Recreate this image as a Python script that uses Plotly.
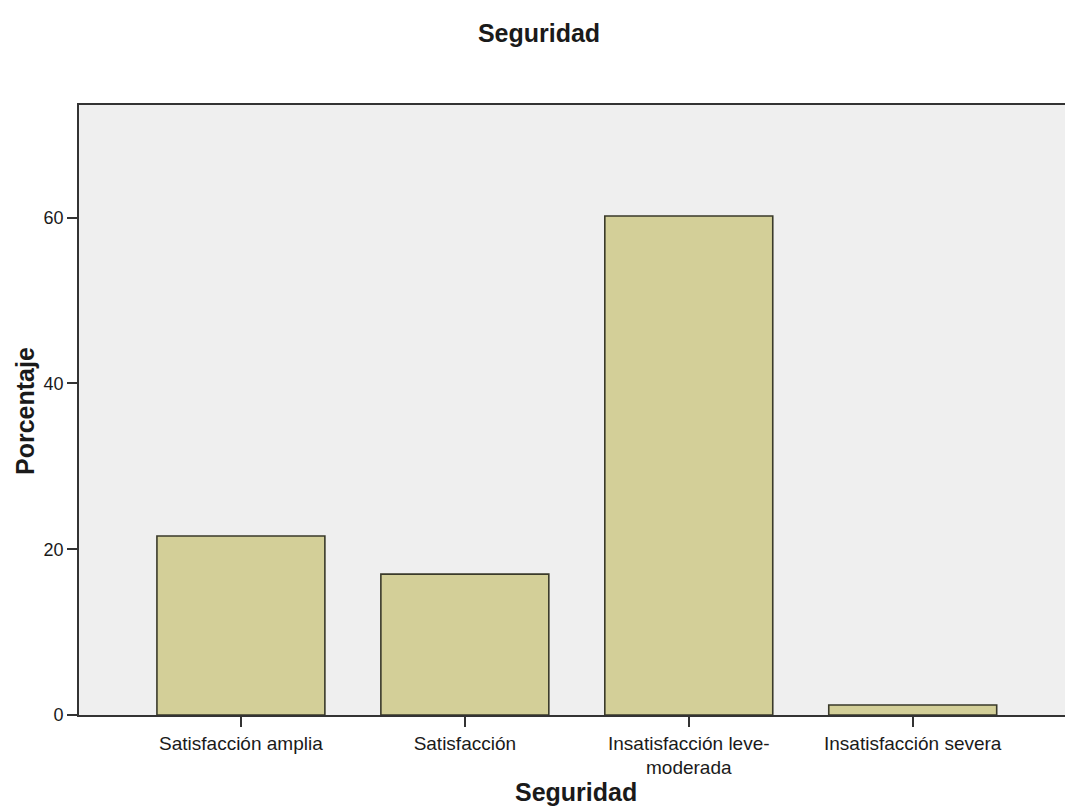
import plotly.graph_objects as go

# Percentage of respondents per satisfaction level (Seguridad)
categories = [
    "Satisfacción amplia",
    "Satisfacción",
    "Insatisfacción leve-<br>moderada",
    "Insatisfacción severa",
]
percentages = [21.6, 17.0, 60.2, 1.2]
y_tick_values = [0, 20, 40, 60]
y_tick_labels = ["0", "20", "40", "60"]

FONT = "Liberation Sans, Arial, sans-serif"
INK = "#1a1a1a"

fig = go.Figure(
    go.Bar(
        x=list(range(len(categories))),
        y=percentages,
        marker=dict(color="#d3cf98", line=dict(color="#3a3a2a", width=1.6)),
        hoverinfo="y",
    )
)

W, H = 1065, 807
ml, mr, mt, mb = 79, 0, 105, 92

fig.update_layout(
    width=W,
    height=H,
    margin=dict(l=ml, r=mr, t=mt, b=mb, autoexpand=False),
    paper_bgcolor="white",
    plot_bgcolor="#efefef",
    bargap=0.25,
    showlegend=False,
    font=dict(family=FONT, color=INK),
    title=dict(
        text="<b>Seguridad</b>",
        font=dict(family=FONT, size=25, color=INK),
        x=539 / W,
        xanchor="center",
        xref="container",
        y=1 - 33 / H,
        yanchor="middle",
        yref="container",
    ),
)

fig.update_xaxes(
    range=[-0.723, 3.68],
    tickmode="array",
    tickvals=list(range(len(categories))),
    ticktext=categories,
    ticks="outside",
    ticklen=10,
    tickwidth=1.5,
    tickcolor="#333333",
    tickfont=dict(family=FONT, size=19, color=INK),
    showline=True,
    linecolor="#333333",
    linewidth=1.6,
    mirror=True,
    showgrid=False,
    zeroline=False,
)

fig.update_yaxes(
    range=[0, 73.6],
    tickmode="array",
    tickvals=y_tick_values,
    ticktext=y_tick_labels,
    ticks="outside",
    ticklen=10,
    tickwidth=1.5,
    tickcolor="#333333",
    tickfont=dict(family=FONT, size=18, color=INK),
    showline=True,
    linecolor="#333333",
    linewidth=1.6,
    showgrid=False,
    zeroline=False,
)

plot_w = W - ml - mr
plot_h = H - mt - mb

# Axis titles
fig.add_annotation(
    text="<b>Seguridad</b>",
    xref="paper", yref="paper",
    x=(576 - ml) / plot_w, y=-(792 - (H - mb)) / plot_h,
    xanchor="center", yanchor="middle",
    showarrow=False,
    font=dict(family=FONT, size=25, color=INK),
)
fig.add_annotation(
    text="<b>Porcentaje</b>",
    xref="paper", yref="paper",
    x=(25 - ml) / plot_w, y=((H - mb) - 411) / plot_h,
    xanchor="center", yanchor="middle",
    textangle=-90,
    showarrow=False,
    font=dict(family=FONT, size=25, color=INK),
)

fig.write_html("out.html")
